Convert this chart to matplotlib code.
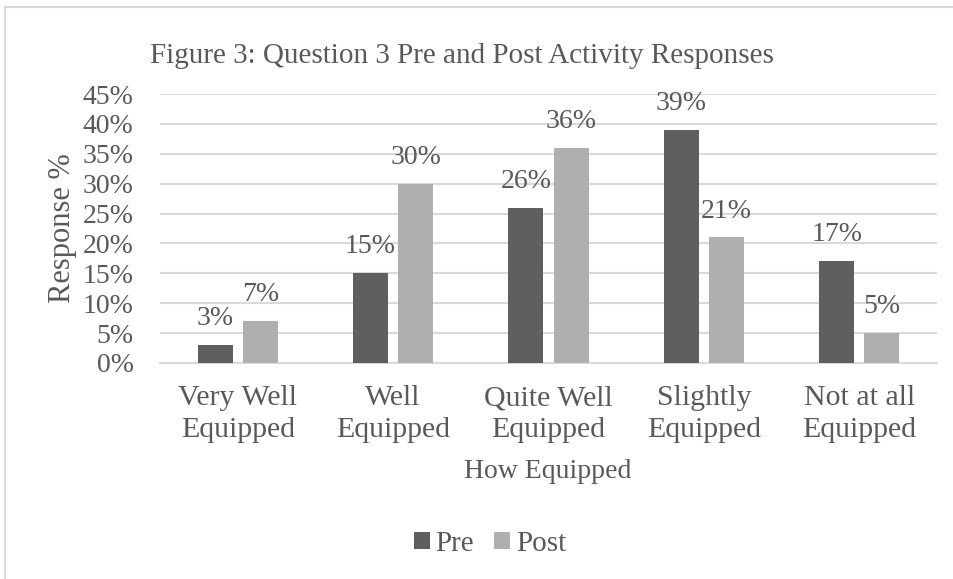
import matplotlib
matplotlib.use("Agg")
import matplotlib.pyplot as plt
import numpy as np
from matplotlib.patches import Rectangle

categories = ["Very Well\nEquipped", "Well\nEquipped", "Quite Well\nEquipped", "Slightly\nEquipped", "Not at all\nEquipped"]
pre = [3, 15, 26, 39, 17]
post = [7, 30, 36, 21, 5]
yticks = [0, 5, 10, 15, 20, 25, 30, 35, 40, 45]

plt.rcParams['font.family'] = ['Liberation Serif', 'DejaVu Serif']
TXT = '#595959'

fig = plt.figure(figsize=(9.54, 5.79), dpi=100)
fig.patches.append(Rectangle((5/954, -0.1), 1.2, 1 - 7/579 + 0.1, transform=fig.transFigure,
                             fill=False, edgecolor='#d9d9d9', linewidth=1.5))
ax = fig.add_axes([160/954, 1 - 363/579, (937 - 160)/954, (363 - 94)/579])

x = np.arange(len(categories))
w = 0.225
off = 0.145
b1 = ax.bar(x - off, pre, w, color='#5f5f5f', label='Pre', zorder=3)
b2 = ax.bar(x + off, post, w, color='#afafaf', label='Post', zorder=3)

for bars, vals in ((b1, pre), (b2, post)):
    for r, v in zip(bars, vals):
        ax.annotate(f"{v}%", (r.get_x() + r.get_width()/2, v), xytext=(0, 10),
                    textcoords='offset points', ha='center', va='bottom',
                    fontsize=20, color=TXT)

ax.set_xlim(-0.5, len(categories) - 0.5)
ax.set_ylim(0, 45)
ax.set_yticks(yticks)
ax.set_yticklabels([f"{t}%" for t in yticks], fontsize=20, color=TXT)
ax.set_xticks(x)
ax.set_xticklabels(categories, fontsize=21.5, color=TXT, linespacing=1.3)
ax.tick_params(axis='both', length=0)
ax.tick_params(axis='x', pad=16)
ax.tick_params(axis='y', pad=19)
ax.yaxis.grid(True, color='#d9d9d9', linewidth=1.5, zorder=0)
for s in ['top', 'right', 'left']:
    ax.spines[s].set_visible(False)
ax.spines['bottom'].set_color('#d9d9d9')
ax.spines['bottom'].set_linewidth(1.5)

ax.set_ylabel("Response %", fontsize=22, color=TXT, labelpad=4)
fig.text(548/954, 1 - 471/579, "How Equipped", fontsize=20, color=TXT, ha='center', va='center')
fig.text(462/954, 1 - 56/579, "Figure 3: Question 3 Pre and Post Activity Responses",
         fontsize=21, color=TXT, ha='center', va='center')

leg = fig.legend(loc='center', bbox_to_anchor=(490/954, 1 - 544/579), ncol=2, frameon=False,
                 fontsize=21, handlelength=0.55, handleheight=0.55, handletextpad=0.2,
                 columnspacing=0.7)
for t in leg.get_texts():
    t.set_color(TXT)

fig.savefig("out.png", dpi=100)
